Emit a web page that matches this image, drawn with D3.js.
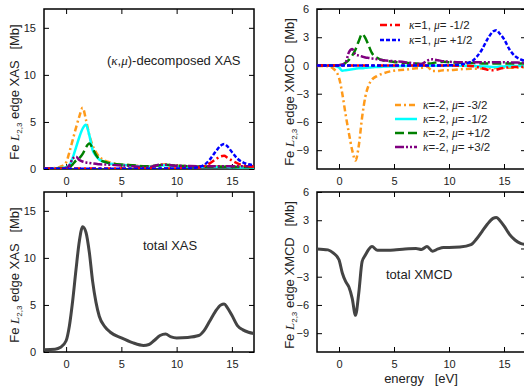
<!DOCTYPE html>
<html>
<head>
<meta charset="utf-8">
<script src="https://cdn.jsdelivr.net/npm/d3@7"></script>
<style>
  body { margin: 0; background: #fff; }
  svg { display: block; font-family: "Liberation Sans", Arial, sans-serif; }
</style>
</head>
<body>
<svg id="chart" width="524" height="386"></svg>
<script>
// energy grid [eV] shared by all curves
var energy = [-2, -1, -0.5, 0, 0.3, 0.6, 0.9, 1.2, 1.5, 1.8, 2.1, 2.4, 2.7, 3.0, 3.5, 4, 5, 6, 7, 7.5,
              8, 8.5, 9, 9.5, 10, 11, 12, 12.5, 13, 13.5, 14, 14.3, 14.6, 15, 15.5, 16, 16.5, 17];

// (kappa,mu)-decomposed XAS [Mb]
var xasK1m = [0.02, 0.02, 0.02, 0.03, 0.03, 0.04, 0.04, 0.05, 0.05, 0.05, 0.05, 0.05, 0.05, 0.05, 0.05, 0.05, 0.05, 0.05, 0.05, 0.05,
              0.05, 0.05, 0.06, 0.06, 0.06, 0.08, 0.15, 0.3, 0.6, 1.0, 1.35, 1.4, 1.2, 0.9, 0.6, 0.4, 0.3, 0.25];
var xasK1p = [0.02, 0.02, 0.02, 0.03, 0.03, 0.03, 0.03, 0.03, 0.03, 0.03, 0.03, 0.03, 0.03, 0.03, 0.03, 0.03, 0.03, 0.03, 0.03, 0.03,
              0.03, 0.04, 0.04, 0.04, 0.05, 0.06, 0.2, 0.45, 1.0, 1.8, 2.5, 2.65, 2.4, 1.8, 1.1, 0.7, 0.5, 0.4];
var xasK2m32 = [0.05, 0.1, 0.25, 0.7, 1.8, 3.1, 4.4, 5.6, 6.5, 5.2, 3.6, 2.5, 1.8, 1.3, 0.9, 0.7, 0.5, 0.4, 0.3, 0.3,
                0.35, 0.45, 0.5, 0.4, 0.35, 0.3, 0.3, 0.3, 0.3, 0.3, 0.3, 0.3, 0.3, 0.3, 0.25, 0.25, 0.2, 0.2];
var xasK2m12 = [0.05, 0.05, 0.1, 0.2, 0.4, 1.2, 2.3, 3.4, 4.3, 4.7, 3.6, 2.0, 1.4, 1.0, 0.75, 0.55, 0.45, 0.35, 0.25, 0.25,
                0.3, 0.35, 0.4, 0.35, 0.3, 0.25, 0.2, 0.2, 0.2, 0.2, 0.2, 0.2, 0.2, 0.18, 0.17, 0.16, 0.15, 0.15];
var xasK2p12 = [0.05, 0.05, 0.05, 0.1, 0.2, 0.5, 0.9, 1.15, 1.6, 2.3, 2.7, 2.2, 1.5, 1.05, 0.75, 0.6, 0.45, 0.4, 0.3, 0.3,
                0.35, 0.4, 0.45, 0.4, 0.35, 0.3, 0.25, 0.25, 0.25, 0.25, 0.25, 0.25, 0.22, 0.22, 0.2, 0.2, 0.2, 0.2];
var xasK2p32 = [0.05, 0.05, 0.05, 0.1, 0.4, 1.1, 1.3, 0.95, 0.8, 0.7, 0.65, 0.6, 0.55, 0.5, 0.48, 0.45, 0.38, 0.3, 0.2, 0.2,
                0.35, 0.45, 0.45, 0.4, 0.35, 0.32, 0.3, 0.3, 0.3, 0.3, 0.3, 0.3, 0.3, 0.3, 0.3, 0.3, 0.3, 0.3];
var xasTotal = [0.25, 0.3, 0.5, 1.2, 2.8, 5.5, 8.8, 11.8, 13.3, 12.7, 10.6, 7.5, 5.3, 3.8, 2.7, 2.1, 1.5, 1.0, 0.7, 0.8,
                1.25, 1.75, 1.9, 1.6, 1.5, 1.55, 1.75, 2.3, 3.3, 4.3, 5.0, 5.1, 4.7, 3.9, 2.8, 2.35, 2.1, 1.95];

// (kappa,mu)-decomposed XMCD [Mb]
var xmcdK1m = [0, 0, 0, 0, 0, 0, 0, 0, 0, 0, 0, 0, 0, 0, 0, 0, 0, 0, 0, 0,
               0, 0, 0, 0, 0, -0.02, -0.05, -0.15, -0.3, -0.45, -0.5, -0.45, -0.35, -0.25, -0.2, -0.15, -0.15, -0.12];
var xmcdK1p = [0, 0, 0, 0, 0, 0, 0, 0, 0, 0, 0, 0, 0, 0, 0, 0, 0, 0, 0, 0,
               0, 0, 0, 0.01, 0.02, 0.1, 0.4, 0.9, 1.7, 2.8, 3.6, 3.75, 3.4, 2.8, 1.7, 1.0, 0.65, 0.45];
var xmcdK2m32 = [-0.05, -0.07, -0.35, -1.3, -3.0, -5.2, -7.2, -9.0, -10.1, -8.5, -5.5, -3.3, -2.1, -1.5, -1.1, -0.85, -0.55, -0.45, -0.3, -0.25,
                 -0.1, -0.6, -0.6, -0.5, -0.5, -0.4, -0.35, -0.35, -0.3, -0.3, -0.3, -0.25, -0.25, -0.25, -0.25, -0.22, -0.2, -0.2];
var xmcdK2m12 = [0, 0, -0.02, -0.2, -0.55, -0.5, -0.45, -0.4, -0.35, -0.3, -0.3, -0.25, -0.22, -0.2, -0.15, -0.12, -0.08, -0.05, -0.03, -0.02,
                 -0.02, -0.02, -0.02, -0.02, -0.02, -0.03, -0.05, -0.07, -0.1, -0.12, -0.15, -0.15, -0.12, -0.1, -0.08, -0.06, -0.05, -0.05];
var xmcdK2p12 = [0, 0, 0, 0.02, 0.05, 0.3, 0.6, 1.05, 1.7, 2.6, 3.35, 2.9, 2.1, 1.3, 0.8, 0.55, 0.38, 0.28, 0.2, 0.15,
                 0.2, 0.25, 0.35, 0.4, 0.35, 0.3, 0.25, 0.25, 0.22, 0.2, 0.2, 0.2, 0.2, 0.2, 0.2, 0.2, 0.2, 0.2];
var xmcdK2p32 = [0, 0, 0, 0.03, 0.1, 0.3, 1.4, 1.75, 1.15, 1.05, 0.95, 0.85, 0.8, 0.75, 0.65, 0.55, 0.45, 0.35, 0.2, 0.15,
                 0.5, 0.65, 0.55, 0.45, 0.4, 0.35, 0.35, 0.35, 0.35, 0.35, 0.35, 0.35, 0.35, 0.35, 0.33, 0.32, 0.3, 0.3];
var xmcdTotal = [-0.05, -0.15, -0.5, -1.2, -2.6, -3.5, -4.1, -5.3, -7.1, -4.7, -1.4, -0.7, -0.1, 0.2, -0.2, -0.2, -0.15, -0.05, 0, -0.1,
                 0.2, -0.3, -0.05, 0.1, 0.1, 0.15, 0.4, 1.0, 1.8, 2.6, 3.2, 3.3, 3.0, 2.4, 1.5, 0.9, 0.55, 0.4];

var xTicks = [0, 5, 10, 15];
var xasTicks = [0, 5, 10, 15];
var xmcdTicks = [-9, -6, -3, 0, 3, 6];

// series styles, legend order
var series = [
  {k: "1",  m: "-1/2", color: "#ff0000", dash: "7,3,2,3", xas: xasK1m,   xmcd: xmcdK1m},
  {k: "1",  m: "+1/2", color: "#0000ff", dash: "4,2",     xas: xasK1p,   xmcd: xmcdK1p},
  {k: "-2", m: "-3/2", color: "#ff9a1a", dash: "6,3,2,3", xas: xasK2m32, xmcd: xmcdK2m32},
  {k: "-2", m: "-1/2", color: "#00ffff", dash: null,      xas: xasK2m12, xmcd: xmcdK2m12},
  {k: "-2", m: "+1/2", color: "#008000", dash: "9,4",     xas: xasK2p12, xmcd: xmcdK2p12},
  {k: "-2", m: "+3/2", color: "#800080", dash: "9,2,2,2,2,2", xas: xasK2p32, xmcd: xmcdK2p32}
];

var svg = d3.select("#chart");
var defs = svg.append("defs");

function panel(id, box, yDomain, yTicks) {
  var x = d3.scaleLinear().domain([-2, 17]).range([box.left, box.right]);
  var y = d3.scaleLinear().domain(yDomain).range([box.bottom, box.top]);
  var g = svg.append("g");

  defs.append("clipPath").attr("id", id)
    .append("rect")
      .attr("x", box.left).attr("y", box.top)
      .attr("width", box.right - box.left).attr("height", box.bottom - box.top);

  var axes = [
    [d3.axisBottom(x).tickValues(xTicks), "translate(0," + box.bottom + ")", true],
    [d3.axisTop(x).tickValues(xTicks).tickFormat(""), "translate(0," + box.top + ")", false],
    [d3.axisLeft(y).tickValues(yTicks), "translate(" + box.left + ",0)", true],
    [d3.axisRight(y).tickValues(yTicks).tickFormat(""), "translate(" + box.right + ",0)", false]
  ];
  axes.forEach(function(a) {
    var ax = g.append("g")
      .attr("transform", a[1])
      .call(a[0].tickSizeInner(-5).tickSizeOuter(0).tickPadding(a[2] ? 8 : 0));
    ax.select(".domain").remove();
    ax.selectAll("line").attr("stroke", "#000").attr("stroke-width", 1);
    ax.selectAll("text").attr("font-size", 11).attr("fill", "#222")
      .attr("font-family", "'Liberation Sans', Arial, sans-serif");
  });

  g.append("rect")
    .attr("x", box.left).attr("y", box.top)
    .attr("width", box.right - box.left).attr("height", box.bottom - box.top)
    .attr("fill", "none").attr("stroke", "#000").attr("stroke-width", 1.5);

  var plot = g.append("g").attr("clip-path", "url(#" + id + ")");
  return {x: x, y: y, g: g, plot: plot};
}

function drawLine(p, values, color, width, dash) {
  var line = d3.line()
    .x(function(d, i) { return p.x(energy[i]); })
    .y(function(d) { return p.y(d); })
    .curve(d3.curveMonotoneX);
  p.plot.append("path")
    .datum(values)
    .attr("d", line)
    .attr("fill", "none")
    .attr("stroke", color)
    .attr("stroke-width", width)
    .attr("stroke-dasharray", dash)
    .attr("stroke-linejoin", "round");
}

function yTitle(cx, cy, kind) {
  var t = svg.append("text")
    .attr("transform", "translate(" + cx + "," + cy + ") rotate(-90)")
    .attr("text-anchor", "middle")
    .attr("font-size", 13)
    .attr("fill", "#222")
    .style("white-space", "pre");
  t.append("tspan").text("Fe ");
  t.append("tspan").attr("font-family", "'Liberation Serif', serif").attr("font-style", "italic").text("L");
  t.append("tspan").attr("font-size", 8).attr("dy", 3).text("2,3");
  t.append("tspan").attr("dy", -3).text(" edge " + kind + "   [Mb]");
}

function greek(t, s) {
  t.append("tspan").attr("font-family", "'Liberation Serif', serif").attr("font-style", "italic").text(s);
}

var pTL = panel("cTL", {left: 44, right: 254, top: 9, bottom: 169}, [0, 17], xasTicks);
var pTR = panel("cTR", {left: 317, right: 526, top: 9, bottom: 169}, [-11, 6], xmcdTicks);
var pBL = panel("cBL", {left: 44, right: 254, top: 192, bottom: 352}, [0, 17], xasTicks);
var pBR = panel("cBR", {left: 317, right: 526, top: 192, bottom: 352}, [-11, 6], xmcdTicks);

// decomposed curves: kappa=-2 first, kappa=1 on top
var order = [2, 3, 4, 5, 0, 1];
order.forEach(function(i) {
  var s = series[i];
  drawLine(pTL, s.xas, s.color, 2.5, s.dash);
  drawLine(pTR, s.xmcd, s.color, 2.5, s.dash);
});
drawLine(pBL, xasTotal, "#444", 3, null);
drawLine(pBR, xmcdTotal, "#444", 3, null);

// titles
yTitle(19, 92, "XAS");
yTitle(19, 275, "XAS");
yTitle(294, 92, "XMCD");
yTitle(294, 275, "XMCD");

var title = svg.append("text").attr("x", 107).attr("y", 65).attr("font-size", 13).attr("fill", "#222");
title.append("tspan").text("(");
greek(title, "κ");
title.append("tspan").text(",");
greek(title, "μ");
title.append("tspan").text(")-decomposed XAS");

svg.append("text").attr("x", 143).attr("y", 250).attr("font-size", 13).attr("fill", "#222").text("total XAS");
svg.append("text").attr("x", 386).attr("y", 279).attr("font-size", 13).attr("fill", "#222").text("total XMCD");
svg.append("text").attr("x", 421).attr("y", 383).attr("text-anchor", "middle").attr("font-size", 13)
  .attr("fill", "#222").style("white-space", "pre").text("energy   [eV]");

// legends
var legendPos = [
  {x0: 380, x1: 400, tx: 409, y: 25},
  {x0: 380, x1: 400, tx: 409, y: 40},
  {x0: 395, x1: 417, tx: 423, y: 105},
  {x0: 395, x1: 417, tx: 423, y: 119},
  {x0: 395, x1: 417, tx: 423, y: 133},
  {x0: 395, x1: 417, tx: 423, y: 147}
];
series.forEach(function(s, i) {
  var L = legendPos[i];
  svg.append("line")
    .attr("x1", L.x0).attr("x2", L.x1).attr("y1", L.y).attr("y2", L.y)
    .attr("stroke", s.color).attr("stroke-width", 2.5).attr("stroke-dasharray", s.dash);
  var t = svg.append("text").attr("x", L.tx).attr("y", L.y + 4).attr("font-size", 11.5).attr("fill", "#222");
  greek(t, "κ");
  t.append("tspan").text("=" + s.k + ", ");
  greek(t, "μ");
  t.append("tspan").text("= " + s.m);
});
</script>
</body>
</html>
